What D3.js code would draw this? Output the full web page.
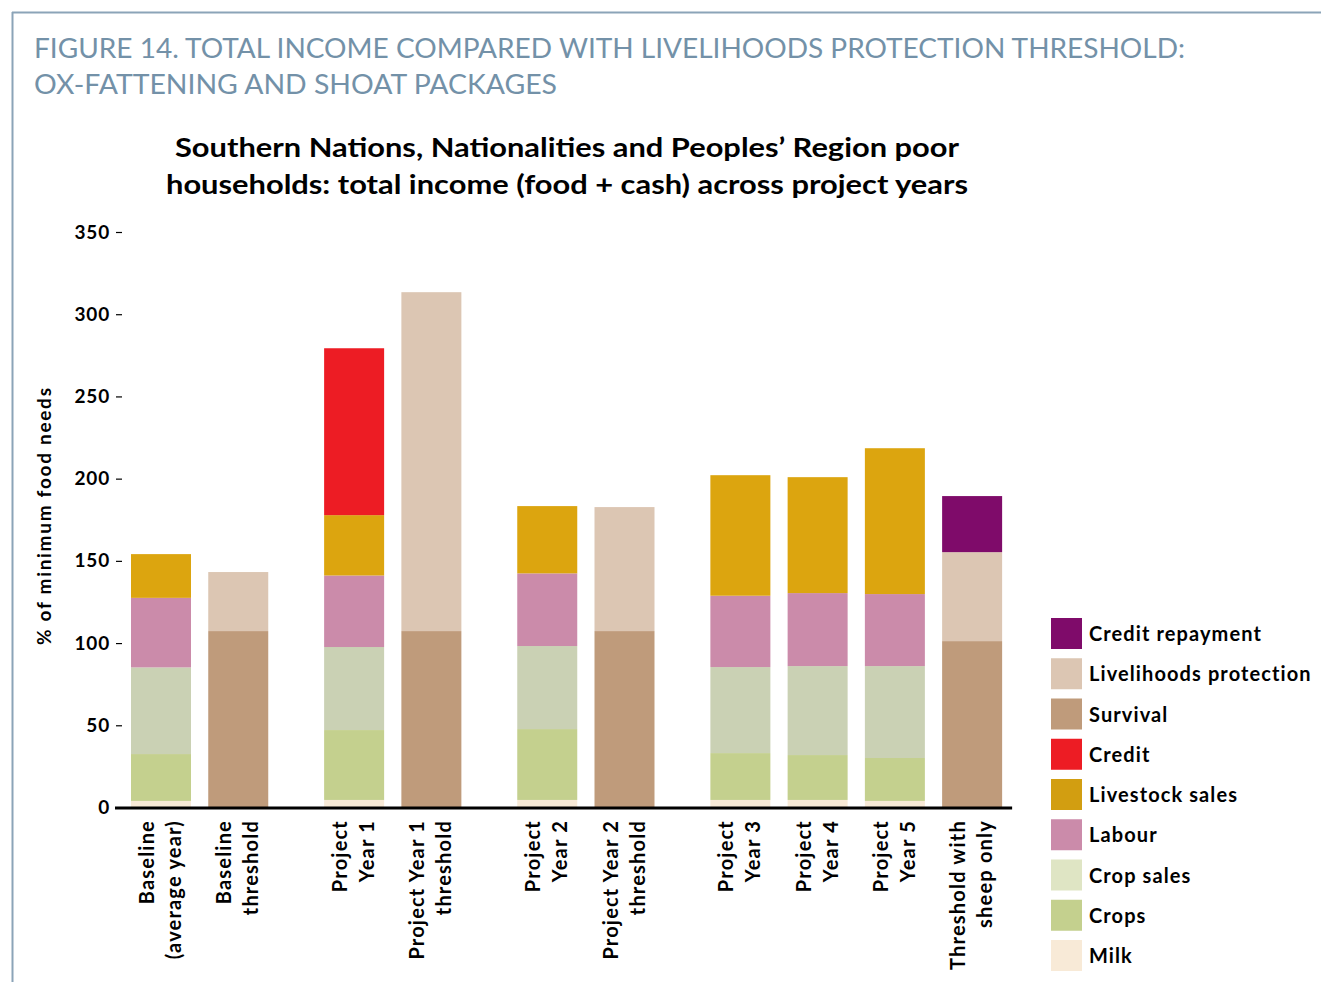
<!DOCTYPE html>
<html>
<head>
<meta charset="utf-8">
<script src="https://cdn.jsdelivr.net/npm/d3@7"></script>
<style>
  html, body { margin: 0; padding: 0; background: #ffffff; }
  svg { display: block; }
  text { font-family: 'Gill Sans', 'Gill Sans MT', Lato, 'Open Sans', sans-serif; }
</style>
</head>
<body>
<svg id="chart" width="1321" height="982"></svg>
<script>
// ---------- DATA ----------
const categories = [
  "Baseline (average year)", "Baseline threshold",
  "Project Year 1", "Project Year 1 threshold",
  "Project Year 2", "Project Year 2 threshold",
  "Project Year 3", "Project Year 4", "Project Year 5",
  "Threshold with sheep only"
];
const categoryLines = [
  ["Baseline", "(average year)"], ["Baseline", "threshold"],
  ["Project", "Year 1"], ["Project Year 1", "threshold"],
  ["Project", "Year 2"], ["Project Year 2", "threshold"],
  ["Project", "Year 3"], ["Project", "Year 4"], ["Project", "Year 5"],
  ["Threshold with", "sheep only"]
];
const categoryGroups = [0, 0, 1, 1, 2, 2, 3, 3, 3, 3];

const seriesNames = ["Milk", "Crops", "Crop sales", "Labour", "Livestock sales",
  "Credit", "Survival", "Livelihoods protection", "Credit repayment"];

const milk            = [4.0, 0, 4.6, 0, 4.6, 0, 4.6, 4.6, 4.0, 0];
const crops           = [28.5, 0, 42.5, 0, 43.1, 0, 28.5, 27.3, 26.1, 0];
const cropSales       = [52.7, 0, 50.5, 0, 50.5, 0, 52.3, 54.1, 55.9, 0];
const labour          = [42.3, 0, 43.5, 0, 44.2, 0, 43.4, 44.4, 43.8, 0];
const livestockSales  = [26.6, 0, 36.7, 0, 40.9, 0, 73.3, 70.5, 88.7, 0];
const credit          = [0, 0, 101.5, 0, 0, 0, 0, 0, 0, 0];
const survival        = [0, 107.3, 0, 107.3, 0, 107.3, 0, 0, 0, 101.2];
const livelihoodsProt = [0, 35.9, 0, 206.1, 0, 75.4, 0, 0, 0, 54.1];
const creditRepayment = [0, 0, 0, 0, 0, 0, 0, 0, 0, 34.1];

const seriesColors = ["#f8ead7", "#c4d08e", "#cad1b4", "#cb8baa", "#dca50f",
  "#ed1c24", "#bf9b7b", "#dcc6b3", "#7f0b6a"];
const legendColors = ["#f8ead7", "#c4d08e", "#dfe5c4", "#cb8baa", "#d29e11",
  "#ed1c24", "#bf9b7b", "#dcc6b3", "#7f0b6a"];

const yTicks = [0, 50, 100, 150, 200, 250, 300, 350];

const figureTitle = ["FIGURE 14. TOTAL INCOME COMPARED WITH LIVELIHOODS PROTECTION THRESHOLD:",
  "OX-FATTENING AND SHOAT PACKAGES"];
const chartTitle = ["Southern Nations, Nationalities and Peoples\u2019 Region poor",
  "households: total income (food + cash) across project years"];
const yLabel = "% of minimum food needs";

// ---------- BUILD ----------
const seriesValues = [milk, crops, cropSales, labour, livestockSales, credit,
  survival, livelihoodsProt, creditRepayment];
const table = categories.map((c, i) => {
  const row = { category: c };
  seriesNames.forEach((s, k) => row[s] = seriesValues[k][i]);
  return row;
});
const stacked = d3.stack().keys(seriesNames)(table);

// slot positions: one unit per bar, half a unit extra between groups
const slotPos = [];
let acc = 0;
categories.forEach((c, i) => {
  if (i > 0 && categoryGroups[i] !== categoryGroups[i - 1]) acc += 0.5;
  slotPos.push(acc);
  acc += 1;
});
const lastSlot = slotPos[slotPos.length - 1];

const svg = d3.select("#chart");

// frame
const frameColor = "#8ba4b8";
svg.append("line").attr("x1", 12).attr("x2", 1321).attr("y1", 12.5).attr("y2", 12.5)
  .attr("stroke", frameColor).attr("stroke-width", 2);
svg.append("line").attr("x1", 12.5).attr("x2", 12.5).attr("y1", 12).attr("y2", 982)
  .attr("stroke", frameColor).attr("stroke-width", 2);

// figure title
svg.append("g").selectAll("text").data(figureTitle).join("text")
  .attr("x", 34).attr("y", (d, i) => 58 + i * 36)
  .attr("fill", "#7391a8").attr("font-size", 27)
  .attr("textLength", (d, i) => i === 0 ? 1151 : 523)
  .attr("lengthAdjust", "spacingAndGlyphs")
  .text(d => d);

// chart title
svg.append("g").selectAll("text").data(chartTitle).join("text")
  .attr("x", 567).attr("y", (d, i) => 157 + i * 37)
  .attr("text-anchor", "middle").attr("font-weight", "bold")
  .attr("font-size", 26).attr("fill", "#000")
  .attr("textLength", (d, i) => i === 0 ? 784 : 802)
  .attr("lengthAdjust", "spacingAndGlyphs")
  .text(d => d);

// scales
const y = d3.scaleLinear().domain([0, 350]).range([807.5, 232]);
const step = 77.25;
const x = d3.scaleLinear().domain([0, lastSlot]).range([131, 131 + lastSlot * step]);
const barW = 60;

// y axis (ticks + labels only)
const yAxis = d3.axisLeft(y).tickValues(yTicks).tickSize(6).tickPadding(6);
const gy = svg.append("g").attr("transform", "translate(122,0)").call(yAxis);
gy.select(".domain").remove();
gy.selectAll(".tick line").attr("stroke", "#000").attr("stroke-width", 1.2);
gy.selectAll(".tick text").attr("font-size", 19).attr("font-weight", "bold")
  .attr("fill", "#000").attr("letter-spacing", 0.8)
  .attr("font-family", "'Gill Sans', Lato, sans-serif");

// y label
svg.append("text")
  .attr("transform", "translate(51, 516.5) rotate(-90)")
  .attr("text-anchor", "middle").attr("font-weight", "bold").attr("font-size", 19)
  .attr("textLength", 257).attr("lengthAdjust", "spacing")
  .attr("fill", "#000").text(yLabel);

// bars
const gBars = svg.append("g");
stacked.forEach((layer, k) => {
  gBars.append("g").attr("fill", seriesColors[k])
    .selectAll("rect").data(layer).join("rect")
    .attr("x", (d, i) => x(slotPos[i]))
    .attr("width", barW)
    .attr("y", d => y(d[1]))
    .attr("height", d => Math.max(0, y(d[0]) - y(d[1])));
});

// x axis line
svg.append("line")
  .attr("x1", 115).attr("x2", x(lastSlot) + barW + 10)
  .attr("y1", y(0) + 0.5).attr("y2", y(0) + 0.5)
  .attr("stroke", "#000").attr("stroke-width", 3);

// x labels
const gx = svg.append("g");
categoryLines.forEach((lines, i) => {
  const cx = x(slotPos[i]) + barW / 2;
  const t = gx.append("text")
    .attr("transform", `translate(${cx}, 820) rotate(-90)`)
    .attr("text-anchor", "end").attr("font-weight", "bold")
    .attr("font-size", 20).attr("letter-spacing", 1.2).attr("fill", "#000");
  lines.forEach((ln, j) => {
    t.append("tspan").attr("x", 0).attr("y", j === 0 ? -7 : 20).text(ln);
  });
});

// legend
const legendOrder = seriesNames.map((s, k) => k).reverse();
const gl = svg.append("g").attr("transform", "translate(1051, 618)");
const items = gl.selectAll("g").data(legendOrder).join("g")
  .attr("transform", (d, i) => `translate(0, ${i * 40.25})`);
items.append("rect").attr("width", 31).attr("height", 31)
  .attr("fill", d => legendColors[d]);
items.append("text").attr("x", 38).attr("y", 23)
  .attr("font-weight", "bold").attr("font-size", 20).attr("letter-spacing", 1.1)
  .attr("fill", "#000")
  .text(d => seriesNames[d]);
</script>
</body>
</html>
